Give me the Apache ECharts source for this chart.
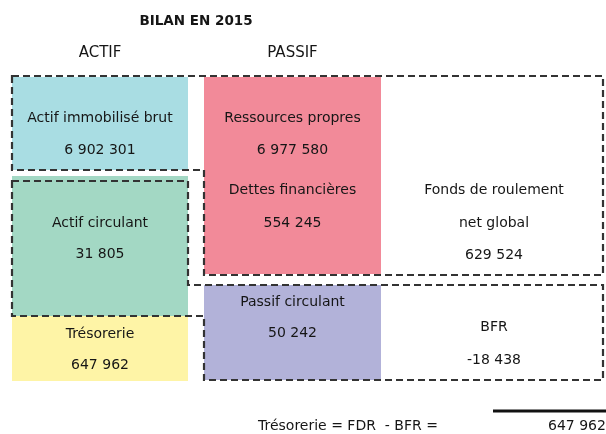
<!DOCTYPE html>
<html><head><meta charset="utf-8">
<script src="https://cdn.jsdelivr.net/npm/echarts@6/dist/echarts.min.js"></script>
<style>html,body{margin:0;padding:0;background:#fff}#c{width:606px;height:434px}</style>
</head><body><div id="c"></div>
<script>
// ---- data ----
const title = 'BILAN EN 2015';
const sideHeaders = ['ACTIF', 'PASSIF'];
const actifLabels = ['Actif immobilisé brut', 'Actif circulant', 'Trésorerie'];
const actifValues = [6902301, 31805, 647962];
const passifLabels = ['Ressources propres', 'Dettes financières', 'Passif circulant'];
const passifValues = [6977580, 554245, 50242];
const fdrLabels = ['Fonds de roulement', 'net global'];
const fdrValue = 629524;
const bfrLabel = 'BFR';
const bfrValue = -18438;
const formulaText = 'Trésorerie = FDR  - BFR =';
const tresorerieResult = 647962;

// ---- layout (schematic, canvas units) ----
const col = { aL: 12, aR: 188, pL: 204, pR: 381, fR: 603 };
const row = { top: 77, immoB: 170, circT: 176, circB: 316, bottom: 381, propB: 274, pcT: 285, pcB: 380, o2T: 181 };
const cx = { a: (col.aL + col.aR) / 2, p: (col.pL + col.pR) / 2, f: 494 };
const colors = ['#A9DDE3', '#A3D8C4', '#FEF4A6', '#F28A99', '#B2B2D9'];

const fills = [
  [col.aL, row.top, col.aR, row.immoB, 0],
  [col.aL, row.circT, col.aR, row.circB, 1],
  [col.aL, row.circB, col.aR, row.bottom, 2],
  [col.pL, row.top, col.pR, row.propB, 3],
  [col.pL, row.pcT, col.pR, row.pcB, 4]
];
const outlines = [
  [[col.aL, 76], [col.fR, 76], [col.fR, 275], [col.pL, 275], [col.pL, row.immoB], [col.aL, row.immoB]],
  [[col.aL, row.o2T], [col.aR, row.o2T], [col.aR, row.pcT], [col.fR, row.pcT], [col.fR, row.pcB], [col.pL, row.pcB], [col.pL, row.circB], [col.aL, row.circB]]
];

const fmt = n => (n < 0 ? '-' : '') + String(Math.abs(n)).replace(/\B(?=(\d{3})+(?!\d))/g, ' ');
const body = '14px "DejaVu Sans"';
const texts = [
  [196, 21, title, 'bold 13.5px "DejaVu Sans"', 'center'],
  [cx.a, 53, sideHeaders[0], '15px "DejaVu Sans"', 'center'],
  [cx.p, 53, sideHeaders[1], '15px "DejaVu Sans"', 'center'],
  [cx.a, 118, actifLabels[0], body, 'center'],
  [cx.a, 150, fmt(actifValues[0]), body, 'center'],
  [cx.a, 223, actifLabels[1], body, 'center'],
  [cx.a, 254, fmt(actifValues[1]), body, 'center'],
  [cx.a, 334, actifLabels[2], body, 'center'],
  [cx.a, 365, fmt(actifValues[2]), body, 'center'],
  [cx.p, 118, passifLabels[0], body, 'center'],
  [cx.p, 150, fmt(passifValues[0]), body, 'center'],
  [cx.p, 190, passifLabels[1], body, 'center'],
  [cx.p, 223, fmt(passifValues[1]), body, 'center'],
  [cx.p, 302, passifLabels[2], body, 'center'],
  [cx.p, 333, fmt(passifValues[2]), body, 'center'],
  [cx.f, 190, fdrLabels[0], body, 'center'],
  [cx.f, 223, fdrLabels[1], body, 'center'],
  [cx.f, 255, fmt(fdrValue), body, 'center'],
  [cx.f, 327, bfrLabel, body, 'center'],
  [cx.f, 360, fmt(bfrValue), body, 'center'],
  [258, 426, formulaText, body, 'left'],
  [548, 426, fmt(tresorerieResult), body, 'left']
];

const chart = echarts.init(document.getElementById('c'), null, { renderer: 'canvas' });
chart.setOption({
  animation: false,
  backgroundColor: '#fff',
  grid: { left: 0, right: 0, top: 0, bottom: 0 },
  xAxis: { type: 'value', min: 0, max: 606, show: false },
  yAxis: { type: 'value', min: 0, max: 434, inverse: true, show: false },
  series: [
    {
      type: 'custom', coordinateSystem: 'cartesian2d', silent: true,
      data: fills, encode: { x: [0, 2], y: [1, 3] },
      renderItem: (params, api) => {
        const p0 = api.coord([api.value(0), api.value(1)]);
        const p1 = api.coord([api.value(2), api.value(3)]);
        return { type: 'rect', shape: { x: p0[0], y: p0[1], width: p1[0] - p0[0], height: p1[1] - p0[1] },
          style: { fill: colors[api.value(4)] } };
      }
    },
    {
      type: 'custom', coordinateSystem: 'cartesian2d', silent: true,
      data: outlines.map((o, i) => [o[0][0], o[0][1], i]),
      renderItem: (params, api) => {
        const pts = outlines[params.dataIndex].map(p => api.coord(p));
        return { type: 'polygon', shape: { points: pts },
          style: { fill: null, stroke: '#333', lineWidth: 2.2, lineDash: [7, 4] } };
      }
    },
    {
      type: 'custom', coordinateSystem: 'cartesian2d', silent: true,
      data: [[493, 411, 606, 411]], encode: { x: [0, 2], y: [1, 3] },
      renderItem: (params, api) => {
        const p0 = api.coord([api.value(0), api.value(1)]);
        const p1 = api.coord([api.value(2), api.value(3)]);
        return { type: 'line', shape: { x1: p0[0], y1: p0[1], x2: p1[0], y2: p1[1] },
          style: { stroke: '#111', lineWidth: 3 } };
      }
    },
    {
      type: 'custom', coordinateSystem: 'cartesian2d', silent: true,
      data: texts.map(t => [t[0], t[1]]),
      renderItem: (params, api) => {
        const t = texts[params.dataIndex];
        const p = api.coord([t[0], t[1]]);
        return { type: 'text', x: p[0], y: p[1],
          style: { text: t[2], font: t[3], fill: '#161616', align: t[4], verticalAlign: 'middle' } };
      }
    }
  ]
});
</script>
</body></html>
